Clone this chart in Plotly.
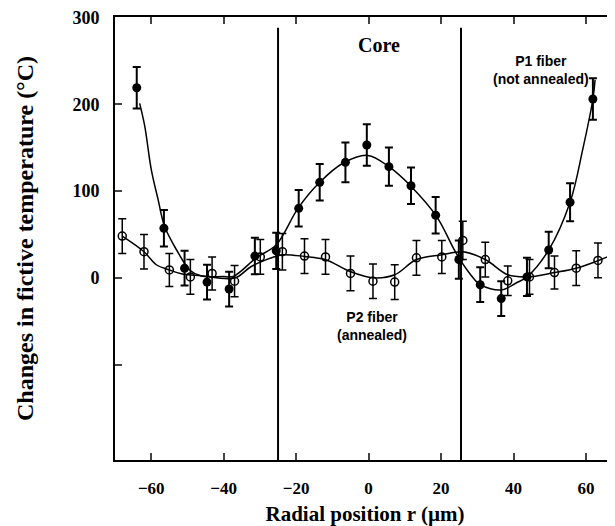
import plotly.graph_objects as go

# P1 fiber (not annealed) - filled circles
p1_r = [-64, -56.5, -50.8, -44.6, -38.5, -31.4, -25.5, -19.3, -13.5, -6.4, -0.5,
        5.6, 11.7, 18.5, 24.9, 30.8, 36.6, 43.7, 49.7, 55.6, 61.9]
p1_dT = [219, 57, 11, -5, -13, 25, 31, 80, 110, 133, 153,
         128, 106, 72, 21, -8, -24, 1, 32, 87, 206]
p1_err = [24, 21, 20, 20, 20, 21, 21, 21, 21, 23, 24,
          22, 21, 21, 22, 20, 20, 22, 21, 22, 24]

# P2 fiber (annealed) - open circles
p2_r = [-68, -62, -55, -49.2, -43.2, -37, -29.9, -23.8, -17.7, -11.9, -5,
        1.2, 7.2, 13.2, 20.2, 26, 32.2, 38.4, 44.4, 51.3, 57.3, 63.3]
p2_dT = [48, 30, 9, 1, 5, -4, 24, 30, 25, 24, 5,
         -4, -5, 23, 24, 43, 21, -3.5, 1, 6, 11, 20]
p2_err = [20, 20, 19, 20, 19, 18, 20, 21, 20, 20, 20,
          20, 20, 20, 19, 22, 20, 17, 20, 19, 20, 20]

# Fitted curves
fit1_r = [-63.2, -61.8, -60, -58.1, -56.3, -53, -49.4, -46.2, -40.2, -37.4, -31, -25.5,
          -19.5, -13.5, -7.1, -0.2, 5.6, 11.8, 18.7, 24.2, 27.9, 30.8, 36.6, 40.7,
          43.7, 49.7, 55.6, 59.1, 61.9, 62.5]
fit1_dT = [201, 175, 125, 90, 59, 32, 9, 2, 1.5, 1.5, 23, 38,
           80, 110, 132, 141, 128, 105, 71, 28, 5, -8, -14, -6,
           1, 32, 87, 148, 206, 228]

fit2_r = [-68, -62, -58.6, -55, -51.7, -46.2, -37, -32.4, -26.8, -23.8, -17.7, -12,
          -5, 1.2, 7.2, 13.2, 20.2, 26, 32.2, 38.4, 43.7, 51.3, 57.3, 63.3, 68]
fit2_dT = [48, 30, 15, 9, 4.6, 2.3, -0.4, 13, 23, 26.5, 24.6, 21,
           7, 0, 3.5, 21, 26.5, 30, 21, 3.5, 1, 6, 11, 19.6, 28]

x_ticks = [-60, -40, -20, 0, 20, 40, 60]
y_ticks = [-100, 0, 100, 200, 300]
y_ticktext = ["", "0", "100", "200", "300"]
core_bounds = [-25, 25.5]

serif = "Liberation Serif"
fig = go.Figure()

fig.add_trace(go.Scatter(x=fit1_r, y=fit1_dT, mode="lines", line=dict(color="black", width=1.5, shape="spline"),
                         showlegend=False, hoverinfo="skip"))
fig.add_trace(go.Scatter(x=fit2_r, y=fit2_dT, mode="lines", line=dict(color="black", width=1.5, shape="spline"),
                         showlegend=False, hoverinfo="skip"))
fig.add_trace(go.Scatter(x=p2_r, y=p2_dT, mode="markers",
                         marker=dict(symbol="circle-open", size=8, color="black", line=dict(width=1.5)),
                         error_y=dict(type="data", array=p2_err, color="black", thickness=1.5, width=4),
                         showlegend=False))
fig.add_trace(go.Scatter(x=p1_r, y=p1_dT, mode="markers",
                         marker=dict(symbol="circle", size=9, color="black"),
                         error_y=dict(type="data", array=p1_err, color="black", thickness=2, width=4),
                         showlegend=False))

for xb in core_bounds:
    fig.add_shape(type="line", x0=xb, x1=xb, y0=-210, y1=288, xref="x", yref="y",
                  line=dict(color="black", width=2))

fig.add_annotation(x=3, y=268, text="Core", showarrow=False,
                   font=dict(family=serif, size=20, color="black", weight="bold"))
fig.add_annotation(x=47.6, y=240, text="P1 fiber<br>(not annealed)", showarrow=False,
                   font=dict(family="Liberation Sans", size=14, color="black", weight="bold"))
fig.add_annotation(x=1, y=-56, text="P2 fiber<br>(annealed)", showarrow=False,
                   font=dict(family="Liberation Sans", size=14, color="black", weight="bold"))

fig.update_layout(
    width=607, height=518,
    margin=dict(l=107, r=0, t=9, b=66),
    plot_bgcolor="white", paper_bgcolor="white",
    font=dict(family=serif, color="black"),
    xaxis=dict(range=[-70, 68], tickvals=x_ticks, ticks="inside", ticklen=7, tickwidth=1.5,
               showline=True, linewidth=2, linecolor="black", mirror="ticks",
               showgrid=False, zeroline=False, automargin=False, ticklabelstandoff=12,
               tickfont=dict(family=serif, size=17, weight="bold"),
               title=dict(text="Radial position r (µm)", standoff=10,
                          font=dict(family=serif, size=21, weight="bold"))),
    yaxis=dict(range=[-210, 300.5], tickvals=y_ticks, ticktext=y_ticktext, ticks="inside", ticklen=7,
               tickwidth=1.5, showline=True, linewidth=2, linecolor="black", mirror=False,
               showgrid=False, zeroline=False, automargin=False, ticklabelstandoff=10,
               ticklabeloverflow="allow",
               tickfont=dict(family=serif, size=18, weight="bold"),
               title=dict(text="Changes in fictive temperature (°C)", standoff=32,
                          font=dict(family=serif, size=24, weight="bold"))),
)

fig.write_html("out.html")
